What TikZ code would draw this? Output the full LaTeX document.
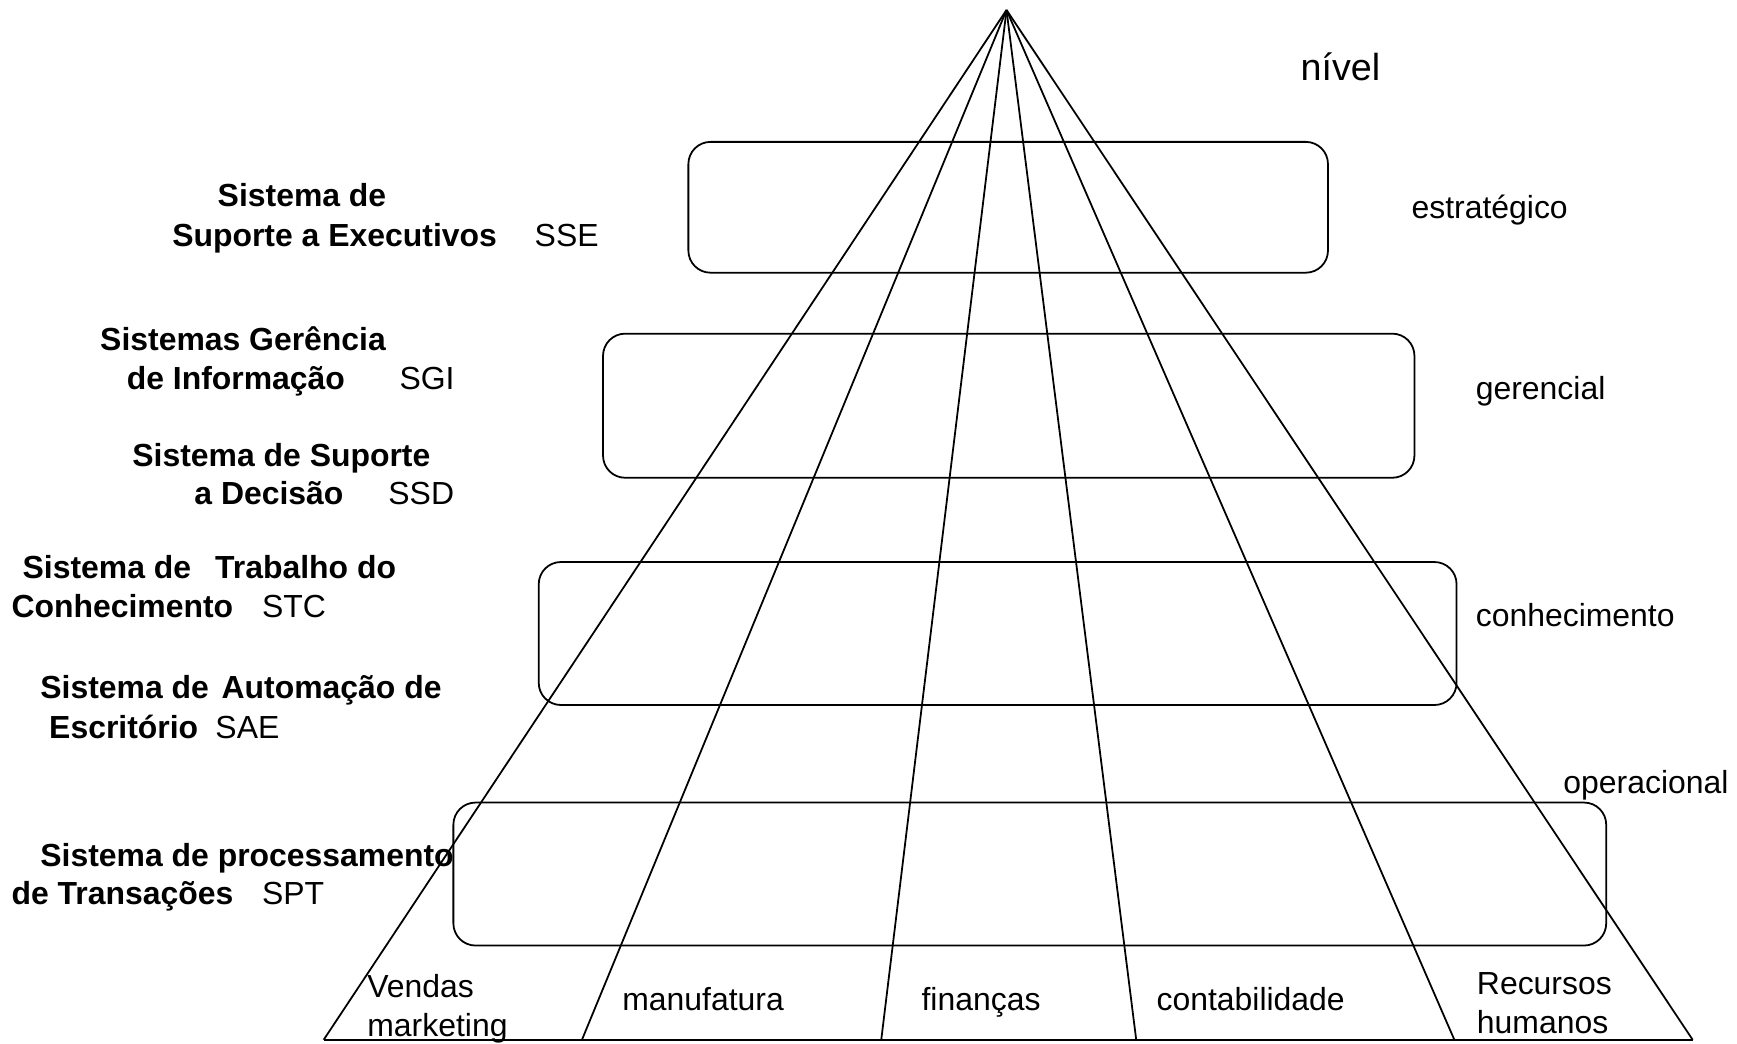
\documentclass[tikz,border=0pt]{standalone}
\usepackage{fontspec}
\setmainfont{Liberation Sans}
\begin{document}
\begin{tikzpicture}[x=0.5pt,y=-0.5pt,
  ln/.style={line width=0.8pt,black},
  lvl/.style={ln,rounded corners=10pt},
  bt/.style={anchor=base west,inner sep=0pt,font=\fontsize{14.4}{18}\selectfont\bfseries},
  rt/.style={anchor=base west,inner sep=0pt,font=\fontsize{14.4}{18}\selectfont},
  ml/.style={anchor=base west,inner sep=0pt,align=left,font=\fontsize{14.4}{17.5}\selectfont}]
\useasboundingbox (0,0) rectangle (1567,941.8);
% pyramid
\coordinate (apex) at (908,9);
\coordinate (b1) at (292,938);
\coordinate (b2) at (525,938);
\coordinate (b3) at (795,938);
\coordinate (b4) at (1025,938);
\coordinate (b5) at (1312,938);
\coordinate (b6) at (1527,938);
\foreach \i in {1,...,6} \draw[ln] (apex) -- (b\i);
\draw[ln] (b1) -- (b6);
% level boxes
\draw[lvl] (621,128) rectangle (1198,246);
\draw[lvl] (544,301) rectangle (1276,431);
\draw[lvl] (486,507) rectangle (1314,636);
\draw[lvl] (409,724) rectangle (1449,853);
% right labels
\node[anchor=base west,inner sep=0pt,font=\fontsize{17}{20}\selectfont] (nivel) at (1173,73) {nível};
\node[rt] (estr) at (1273,197) {estratégico};
\node[rt] (ger) at (1331,360) {gerencial};
\node[rt] (conh) at (1331,565) {conhecimento};
\node[rt] (oper) at (1410,716) {operacional};
% left labels
\node[bt] (sse1) at (196,186) {Sistema de};
\node[bt] (sse2) at (155,222) {Suporte a Executivos};
\node[rt] (sse3) at (482,222) {SSE};
\node[bt] (sgi1) at (90,316) {Sistemas Gerência};
\node[bt] (sgi2) at (114,351) {de Informação};
\node[rt] (sgi3) at (360,351) {SGI};
\node[bt] (ssd1) at (119,421) {Sistema de Suporte};
\node[bt] (ssd2) at (175,455) {a Decisão};
\node[rt] (ssd3) at (350,455) {SSD};
\node[bt] (stc1) at (20,522) {Sistema de\hspace{0.75em}Trabalho do};
\node[bt] (stc2) at (10,557) {Conhecimento};
\node[rt] (stc3) at (236,557) {STC};
\node[bt] (sae1) at (36,630) {Sistema de\hspace{0.4em}Automação de};
\node[bt] (sae2) at (44,666) {Escritório};
\node[rt] (sae3) at (194,666) {SAE};
\node[bt] (spt1) at (36,782) {Sistema de processamento};
\node[bt] (spt2) at (10,816) {de Transações};
\node[rt] (spt3) at (236,816) {SPT};
% bottom labels
\node[ml] (vend) at (331,935) {Vendas\\marketing};
\node[rt] (manu) at (561,912) {manufatura};
\node[rt] (fin) at (831,912) {finanças};
\node[rt] (cont) at (1043,912) {contabilidade};
\node[ml] (rh) at (1332,932) {Recursos\\humanos};
\end{tikzpicture}
\end{document}
